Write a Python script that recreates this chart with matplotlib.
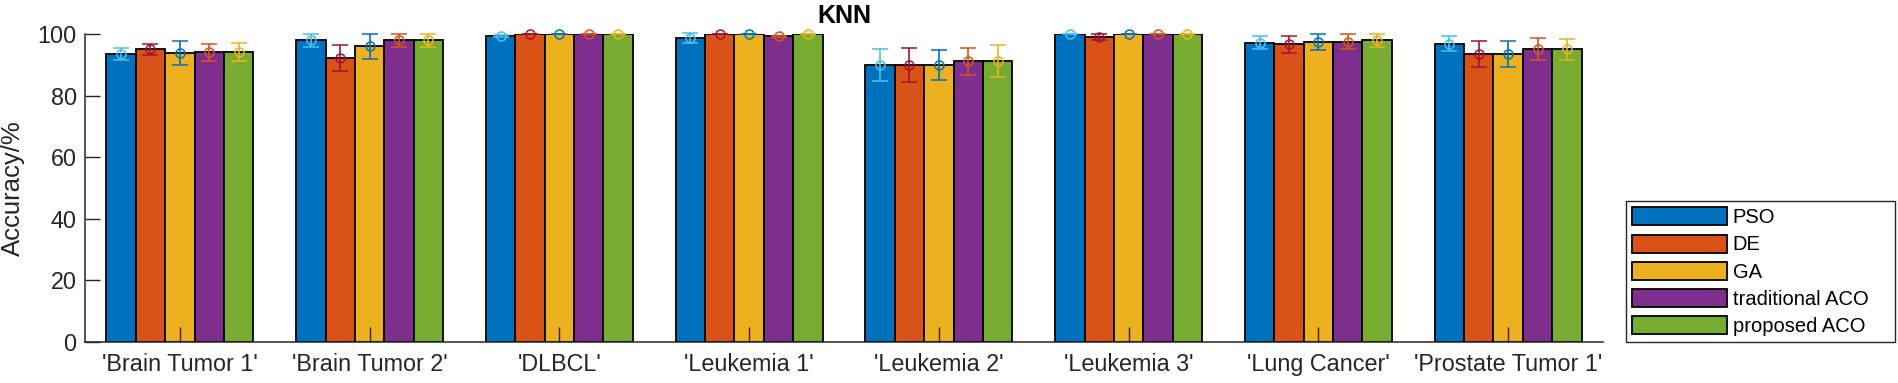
import numpy as np
import matplotlib.pyplot as plt

plt.rcParams['font.family'] = ['Liberation Sans', 'DejaVu Sans']

datasets = ["'Brain Tumor 1'", "'Brain Tumor 2'", "'DLBCL'", "'Leukemia 1'",
            "'Leukemia 2'", "'Leukemia 3'", "'Lung Cancer'", "'Prostate Tumor 1'"]
methods = ["PSO", "DE", "GA", "traditional ACO", "proposed ACO"]

# mean accuracy (%) per method, one value per dataset
pso_mean = [93.6, 98.1, 99.4, 98.7, 90.0, 100.0, 97.3, 96.9]
de_mean = [95.1, 92.3, 100.0, 100.0, 90.0, 99.2, 96.8, 93.5]
ga_mean = [93.9, 96.1, 100.0, 100.0, 90.0, 100.0, 97.6, 93.5]
taco_mean = [94.1, 98.0, 100.0, 99.3, 91.3, 100.0, 97.6, 95.1]
paco_mean = [94.3, 98.0, 100.0, 100.0, 91.4, 100.0, 98.1, 95.1]

# error bar half widths
pso_err = [1.8, 2.1, 0.3, 1.6, 5.1, 0.0, 2.2, 2.4]
de_err = [1.9, 4.2, 0.0, 0.0, 5.6, 1.0, 2.8, 4.2]
ga_err = [3.9, 4.1, 0.0, 0.0, 4.9, 0.0, 2.6, 4.2]
taco_err = [2.8, 2.1, 0.0, 0.2, 4.4, 0.0, 2.5, 3.6]
paco_err = [3.0, 2.1, 0.0, 0.0, 5.2, 0.0, 2.1, 3.3]

means = [pso_mean, de_mean, ga_mean, taco_mean, paco_mean]
errs = [pso_err, de_err, ga_err, taco_err, paco_err]

bar_colors = ["#0072BD", "#D95319", "#EDB120", "#7E2F8E", "#77AC30"]
err_colors = ["#4DBEEE", "#A2142F", "#0072BD", "#D95319", "#EDB120"]

W, H = 1899, 383
fig = plt.figure(figsize=(W / 100, H / 100), dpi=100)
ax = fig.add_axes([85 / W, 1 - 341.7 / H, (1603 - 85) / W, (341.7 - 34.3) / H])

x = np.arange(1, len(datasets) + 1)
bw = 0.155
for i, (m, e) in enumerate(zip(means, errs)):
    xi = x + (i - 2) * bw
    ax.bar(xi, m, width=bw, color=bar_colors[i], edgecolor="black",
           linewidth=1.3, label=methods[i], zorder=2)
    eb = ax.errorbar(xi, m, yerr=e, fmt="o", mfc="none", mec=err_colors[i],
                     ecolor=err_colors[i], ms=6.5, mew=1.1, elinewidth=1.2,
                     capsize=6, capthick=1.2, zorder=3)
    for art in eb.lines[0:1] + tuple(eb.lines[1]) + tuple(eb.lines[2]):
        art.set_clip_on(False)

ax.set_axisbelow(False)
ax.set_xlim(0.5, 8.5)
ax.set_ylim(0, 100)
ax.set_yticks(range(0, 101, 20))
ax.set_xticks(x)
ax.set_xticklabels(datasets)
ax.spines["top"].set_visible(False)
ax.spines["right"].set_visible(False)
for s in ["left", "bottom"]:
    ax.spines[s].set_color("#262626")
    ax.spines[s].set_linewidth(1.1)
ax.tick_params(axis="both", direction="in", length=11, width=1.0,
               color="#262626", labelcolor="#262626", labelsize=16.8)
ax.tick_params(axis="x", pad=8)
ax.tick_params(axis="y", pad=6)
ax.set_ylabel("Accuracy/%", fontsize=18.5, color="#262626")
ax.yaxis.set_label_coords(-0.0395, 0.5)
ax.set_title("KNN", fontsize=18, fontweight="bold", pad=8)

leg = ax.legend(loc="lower left", bbox_to_anchor=(1626 / W, 1 - 342 / H, (1895 - 1626) / W, 0.3),
                bbox_transform=fig.transFigure, mode="expand", borderaxespad=0,
                fontsize=14.5, handlelength=4.7, handleheight=1.0, handletextpad=0.3,
                labelspacing=0.36, borderpad=0.3, fancybox=False, framealpha=1,
                edgecolor="#262626")
leg.get_frame().set_linewidth(1.0)

fig.savefig("out.png", dpi=100, facecolor="white")
